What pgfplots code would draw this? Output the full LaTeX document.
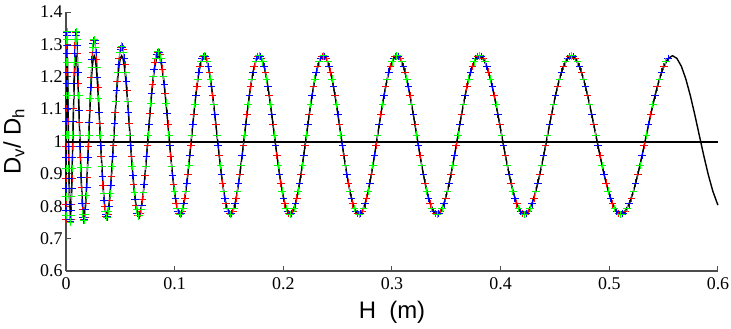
\documentclass[border=0pt]{standalone}
\usepackage{pgfplots}
\pgfplotsset{compat=1.18}
\usepackage{pgfplotstable}
\usepackage{fontspec}
\setmainfont{Liberation Serif}
\newfontfamily\lsans{Liberation Sans}

% model curve D_v/D_h (black)
\pgfplotstableread{
x y
0.000001 0.7834
0.000015 0.8078
0.000043 0.8468
0.000087 0.8975
0.000144 0.9566
0.000217 1.02
0.000304 1.0834
0.000406 1.1425
0.000523 1.1932
0.000654 1.2322
0.000800 1.2566
0.000961 1.265
0.001137 1.2566
0.001327 1.2322
0.001532 1.1932
0.001751 1.1425
0.001986 1.0834
0.002235 1.02
0.002499 0.9566
0.002777 0.8975
0.003071 0.8468
0.003379 0.8078
0.003701 0.7834
0.004039 0.775
0.004391 0.7834
0.004758 0.8078
0.005139 0.8468
0.005535 0.8975
0.005946 0.9566
0.006372 1.02
0.006812 1.0834
0.007268 1.1425
0.007737 1.1932
0.008222 1.2322
0.008721 1.2566
0.009235 1.265
0.009764 1.2566
0.010307 1.2322
0.010866 1.1932
0.011438 1.1425
0.012026 1.0834
0.012628 1.02
0.013245 0.9566
0.013877 0.8975
0.014523 0.8468
0.015184 0.8078
0.015860 0.7834
0.016551 0.775
0.017256 0.7834
0.017976 0.8078
0.018711 0.8468
0.019460 0.8975
0.020224 0.9566
0.021003 1.02
0.021797 1.0834
0.022605 1.1425
0.023428 1.1932
0.024266 1.2322
0.025118 1.2566
0.025985 1.265
0.026867 1.2566
0.027764 1.2322
0.028675 1.1932
0.029601 1.1425
0.030542 1.0834
0.031497 1.02
0.032467 0.9566
0.033452 0.8975
0.034452 0.8468
0.035466 0.8078
0.036495 0.7834
0.037539 0.775
0.038598 0.7834
0.039671 0.8078
0.040759 0.8468
0.041861 0.8975
0.042979 0.9566
0.044111 1.02
0.045257 1.0834
0.046419 1.1425
0.047595 1.1932
0.048786 1.2322
0.049991 1.2566
0.051211 1.265
0.052447 1.2566
0.053697 1.2322
0.054961 1.1932
0.056240 1.1425
0.057534 1.0834
0.058843 1.02
0.060166 0.9566
0.061504 0.8975
0.062857 0.8468
0.064224 0.8078
0.065606 0.7834
0.067003 0.775
0.068415 0.7834
0.069841 0.8078
0.071283 0.8468
0.072738 0.8975
0.074209 0.9566
0.075694 1.02
0.077194 1.0834
0.078709 1.1425
0.080238 1.1932
0.081782 1.2322
0.083341 1.2566
0.084914 1.265
0.086502 1.2566
0.088105 1.2322
0.089723 1.1932
0.091355 1.1425
0.093002 1.0834
0.094664 1.02
0.096340 0.9566
0.098031 0.8975
0.099737 0.8468
0.101457 0.8078
0.103193 0.7834
0.104943 0.775
0.106709 0.7834
0.108488 0.8078
0.110283 0.8468
0.112091 0.8975
0.113915 0.9566
0.115753 1.02
0.117606 1.0834
0.119474 1.1425
0.121356 1.1932
0.123254 1.2322
0.125165 1.2566
0.127092 1.265
0.129034 1.2566
0.130990 1.2322
0.132961 1.1932
0.134946 1.1425
0.136946 1.0834
0.138961 1.02
0.140991 0.9566
0.143035 0.8975
0.145094 0.8468
0.147168 0.8078
0.149256 0.7834
0.151359 0.775
0.153478 0.7834
0.155611 0.8078
0.157758 0.8468
0.159920 0.8975
0.162097 0.9566
0.164289 1.02
0.166495 1.0834
0.168716 1.1425
0.170951 1.1932
0.173202 1.2322
0.175467 1.2566
0.177746 1.265
0.180041 1.2566
0.182351 1.2322
0.184675 1.1932
0.187013 1.1425
0.189367 1.0834
0.191735 1.02
0.194118 0.9566
0.196515 0.8975
0.198927 0.8468
0.201354 0.8078
0.203796 0.7834
0.206252 0.775
0.208723 0.7834
0.211209 0.8078
0.213710 0.8468
0.216225 0.8975
0.218755 0.9566
0.221300 1.02
0.223859 1.0834
0.226433 1.1425
0.229022 1.1932
0.231626 1.2322
0.234244 1.2566
0.236877 1.265
0.239525 1.2566
0.242187 1.2322
0.244864 1.1932
0.247556 1.1425
0.250262 1.0834
0.252984 1.02
0.255719 0.9566
0.258470 0.8975
0.261235 0.8468
0.264015 0.8078
0.266810 0.7834
0.269621 0.775
0.272445 0.7834
0.275284 0.8078
0.278138 0.8468
0.281006 0.8975
0.283889 0.9566
0.286787 1.02
0.289699 1.0834
0.292627 1.1425
0.295569 1.1932
0.298525 1.2322
0.301496 1.2566
0.304483 1.265
0.307484 1.2566
0.310500 1.2322
0.313530 1.1932
0.316575 1.1425
0.319635 1.0834
0.322709 1.02
0.325798 0.9566
0.328902 0.8975
0.332021 0.8468
0.335154 0.8078
0.338302 0.7834
0.341464 0.775
0.344642 0.7834
0.347835 0.8078
0.351042 0.8468
0.354263 0.8975
0.357499 0.9566
0.360750 1.02
0.364016 1.0834
0.367297 1.1425
0.370592 1.1932
0.373901 1.2322
0.377226 1.2566
0.380565 1.265
0.383920 1.2566
0.387289 1.2322
0.390672 1.1932
0.394070 1.1425
0.397483 1.0834
0.400911 1.02
0.404353 0.9566
0.407810 0.8975
0.411282 0.8468
0.414768 0.8078
0.418269 0.7834
0.421785 0.775
0.425316 0.7834
0.428861 0.8078
0.432422 0.8468
0.435996 0.8975
0.439586 0.9566
0.443190 1.02
0.446809 1.0834
0.450443 1.1425
0.454091 1.1932
0.457754 1.2322
0.461432 1.2566
0.465124 1.265
0.468831 1.2566
0.472553 1.2322
0.476290 1.1932
0.480041 1.1425
0.483808 1.0834
0.487588 1.02
0.491384 0.9566
0.495194 0.8975
0.499019 0.8468
0.502859 0.8078
0.506713 0.7834
0.510582 0.775
0.514466 0.7834
0.518364 0.8078
0.522277 0.8468
0.526205 0.8975
0.530148 0.9566
0.534105 1.02
0.538077 1.0834
0.542064 1.1425
0.546065 1.1932
0.550081 1.2322
0.554112 1.2566
0.558158 1.265
0.562218 1.2566
0.566293 1.2322
0.570383 1.1932
0.574487 1.1425
0.578607 1.0834
0.582741 1.02
0.586889 0.9566
0.591052 0.8975
0.595230 0.8468
0.599423 0.8078
0.600000 0.8036
}\curvetab

% measured series (green)
\pgfplotstableread{
x y
0.000008 0.771
0.000043 0.8295
0.000116 0.9168
0.000217 1.02
0.000355 1.1419
0.000523 1.2452
0.000727 1.3143
0.000961 1.3385
0.001232 1.3143
0.001532 1.2452
0.001869 1.1419
0.002235 1.02
0.002638 0.9168
0.003071 0.8295
0.003540 0.771
0.004039 0.7505
0.004575 0.771
0.005139 0.8295
0.005741 0.9168
0.006372 1.02
0.007040 1.1419
0.007737 1.2452
0.008472 1.3143
0.009235 1.3385
0.010036 1.3143
0.010866 1.2452
0.011732 1.1419
0.012628 1.02
0.013561 0.9187
0.014523 0.8329
0.015522 0.7755
0.016551 0.7554
0.017616 0.7755
0.018711 0.8329
0.019842 0.9187
0.021003 1.02
0.022201 1.1326
0.023428 1.2278
0.024692 1.2917
0.025985 1.314
0.027316 1.2917
0.028675 1.2278
0.030072 1.1326
0.031497 1.02
0.032960 0.9224
0.034452 0.8399
0.035981 0.7845
0.037539 0.7652
0.039135 0.7845
0.040759 0.8399
0.042420 0.9224
0.044111 1.02
0.045838 1.1251
0.047595 1.214
0.049389 1.2736
0.051211 1.2944
0.053072 1.2736
0.054961 1.214
0.056887 1.1251
0.058843 1.02
0.060835 0.9243
0.062857 0.8433
0.064915 0.7891
0.067003 0.7701
0.069128 0.7891
0.071283 0.8433
0.073474 0.9243
0.075694 1.02
0.077952 1.1185
0.080238 1.2019
0.082562 1.2577
0.084914 1.2773
0.087304 1.2577
0.089723 1.2019
0.092179 1.1185
0.094664 1.02
0.097186 0.9243
0.099737 0.8468
0.102325 0.7936
0.104943 0.775
0.107599 0.7936
0.110283 0.8468
0.113003 0.9262
0.115753 1.02
0.118540 1.1138
0.121356 1.1932
0.124210 1.2464
0.127092 1.265
0.130012 1.2464
0.132961 1.1932
0.135946 1.1138
0.138961 1.02
0.142013 0.9262
0.145094 0.8468
0.148212 0.7936
0.151359 0.775
0.154545 0.7936
0.157758 0.8468
0.161009 0.9262
0.164289 1.02
0.167606 1.1138
0.170951 1.1932
0.174335 1.2464
0.177746 1.265
0.181196 1.2464
0.184675 1.1932
0.188190 1.1138
0.191735 1.02
0.195317 0.9262
0.198927 0.8468
0.202575 0.7936
0.206252 0.775
0.209966 0.7936
0.213710 0.8468
0.217490 0.9262
0.221300 1.02
0.225146 1.1138
0.229022 1.1932
0.232935 1.2464
0.236877 1.265
0.240856 1.2464
0.244864 1.1932
0.248909 1.1138
0.252984 1.02
0.257095 0.9262
0.261235 0.8468
0.265413 0.7936
0.269621 0.775
0.273865 0.7936
0.278138 0.8468
0.282448 0.9262
0.286787 1.02
0.291163 1.1138
0.295569 1.1932
0.300011 1.2464
0.304483 1.265
0.308992 1.2464
0.313530 1.1932
0.318105 1.1138
0.322709 1.02
0.327350 0.9262
0.332021 0.8468
0.336728 0.7936
0.341464 0.775
0.346239 0.7936
0.351042 0.8468
0.355881 0.9262
0.360750 1.02
0.365657 1.1138
0.370592 1.1932
0.375564 1.2464
0.380565 1.265
0.385605 1.2464
0.390672 1.1932
0.395777 1.1138
0.400911 1.02
0.406082 0.9262
0.411282 0.8468
0.416519 0.7936
0.421785 0.775
0.427089 0.7936
0.432422 0.8468
0.437791 0.9262
0.443190 1.02
0.448626 1.1138
0.454091 1.1932
0.459593 1.2464
0.465124 1.265
0.470692 1.2464
0.476290 1.1932
0.481925 1.1138
0.487588 1.02
0.493289 0.9262
0.499019 0.8468
0.504786 0.7936
0.510582 0.775
0.516415 0.7936
0.522277 0.8468
0.528177 0.9262
0.534105 1.02
0.540071 1.1138
0.546065 1.1932
0.552097 1.2464
}\greentab

% measured series (red)
\pgfplotstableread{
x y
0.000001 0.7597
0.000029 0.8062
0.000087 0.8853
0.000181 0.9848
0.000304 1.1024
0.000465 1.2138
0.000654 1.2959
0.000881 1.3358
0.001137 1.3276
0.001430 1.2727
0.001751 1.1793
0.002111 1.0616
0.002499 0.9503
0.002924 0.856
0.003379 0.7866
0.003870 0.7528
0.004391 0.7597
0.004949 0.8062
0.005535 0.8853
0.006159 0.9848
0.006812 1.1024
0.007503 1.2138
0.008222 1.2959
0.008978 1.3358
0.009764 1.3276
0.010587 1.2727
0.011438 1.1793
0.012327 1.0584
0.013245 0.9515
0.014200 0.859
0.015184 0.7908
0.016206 0.7577
0.017256 0.7645
0.018344 0.81
0.019460 0.8877
0.020614 0.9854
0.021797 1.0961
0.023017 1.1989
0.024266 1.2746
0.025552 1.3115
0.026867 1.3039
0.028220 1.2533
0.029601 1.167
0.031020 1.0558
0.032467 0.9541
0.033952 0.8649
0.035466 0.7993
0.037017 0.7674
0.038598 0.7739
0.040215 0.8178
0.041861 0.8926
0.043545 0.9867
0.045257 1.091
0.047007 1.187
0.048786 1.2577
0.050601 1.292
0.052447 1.285
0.054329 1.2377
0.056240 1.1572
0.058189 1.0558
0.060166 0.9553
0.062181 0.8679
0.064224 0.8036
0.066305 0.7722
0.068415 0.7787
0.070562 0.8217
0.072738 0.8951
0.074952 0.9874
0.077194 1.0866
0.079474 1.1766
0.081782 1.2428
0.084128 1.275
0.086502 1.2684
0.088914 1.2241
0.091355 1.1486
0.093833 1.0536
0.096340 0.9553
0.098884 0.8679
0.101457 0.8078
0.104068 0.7771
0.106709 0.7834
0.109386 0.8256
0.112091 0.8975
0.114834 0.988
0.117606 1.0834
0.120415 1.1691
0.123254 1.2322
0.126129 1.2629
0.129034 1.2566
0.131976 1.2144
0.134946 1.1425
0.137954 1.052
0.140991 0.9566
0.144065 0.8709
0.147168 0.8078
0.150308 0.7771
0.153478 0.7834
0.156685 0.8256
0.159920 0.8975
0.163193 0.988
0.166495 1.0834
0.169834 1.1691
0.173202 1.2322
0.176607 1.2629
0.180041 1.2566
0.183513 1.2144
0.187013 1.1425
0.190551 1.052
0.194118 0.9566
0.197721 0.8709
0.201354 0.8078
0.205024 0.7771
0.208723 0.7834
0.212460 0.8256
0.216225 0.8975
0.220028 0.988
0.223859 1.0834
0.227728 1.1691
0.231626 1.2322
0.235561 1.2629
0.239525 1.2566
0.243526 1.2144
0.247556 1.1425
0.251623 1.052
0.255719 0.9566
0.259853 0.8709
0.264015 0.8078
0.268216 0.7771
0.272445 0.7834
0.276711 0.8256
0.281006 0.8975
0.285338 0.988
0.289699 1.0834
0.294098 1.1691
0.298525 1.2322
0.302990 1.2629
0.307484 1.2566
0.312015 1.2144
0.316575 1.1425
0.321172 1.052
0.325798 0.9566
0.330462 0.8709
0.335154 0.8078
0.339883 0.7771
0.344642 0.7834
0.349439 0.8256
0.354263 0.8975
0.359125 0.988
0.364016 1.0834
0.368945 1.1691
0.373901 1.2322
0.378896 1.2629
0.383920 1.2566
0.388981 1.2144
0.394070 1.1425
0.399197 1.052
0.404353 0.9566
0.409546 0.8709
0.414768 0.8078
0.420027 0.7771
0.425316 0.7834
0.430642 0.8256
0.435996 0.8975
0.441388 0.988
0.446809 1.0834
0.452267 1.1691
0.457754 1.2322
0.463278 1.2629
0.468831 1.2566
0.474422 1.2144
0.480041 1.1425
0.485698 1.052
0.491384 0.9566
0.497107 0.8709
0.502859 0.8078
0.508648 0.7771
0.514466 0.7834
0.520321 0.8256
0.526205 0.8975
0.532127 0.988
0.538077 1.0834
0.544065 1.1691
0.550081 1.2322
}\redtab

% measured series (blue)
\pgfplotstableread{
x y
0.000015 0.7866
0.000065 0.856
0.000144 0.9503
0.000261 1.0616
0.000406 1.1793
0.000589 1.2727
0.000800 1.3276
0.001049 1.3358
0.001327 1.2959
0.001642 1.2138
0.001986 1.1024
0.002367 0.9848
0.002777 0.8853
0.003225 0.8062
0.003701 0.7597
0.004215 0.7528
0.004758 0.7866
0.005337 0.856
0.005946 0.9503
0.006592 1.0616
0.007268 1.1793
0.007980 1.2727
0.008721 1.3276
0.009500 1.3358
0.010307 1.2959
0.011152 1.2138
0.012026 1.0961
0.012937 0.9854
0.013877 0.8877
0.014854 0.81
0.015860 0.7645
0.016904 0.7577
0.017976 0.7908
0.019086 0.859
0.020224 0.9515
0.021400 1.0584
0.022605 1.167
0.023847 1.2533
0.025118 1.3039
0.026426 1.3115
0.027764 1.2746
0.029138 1.1989
0.030542 1.091
0.031982 0.9867
0.033452 0.8926
0.034959 0.8178
0.036495 0.7739
0.038069 0.7674
0.039671 0.7993
0.041310 0.8649
0.042979 0.9541
0.044684 1.0558
0.046419 1.1572
0.048191 1.2377
0.049991 1.285
0.051829 1.292
0.053697 1.2577
0.055601 1.187
0.057534 1.091
0.059505 0.9867
0.061504 0.8951
0.063541 0.8217
0.065606 0.7787
0.067709 0.7722
0.069841 0.8036
0.072011 0.8679
0.074209 0.9553
0.076444 1.0536
0.078709 1.1486
0.081010 1.2241
0.083341 1.2684
0.085708 1.275
0.088105 1.2428
0.090539 1.1766
0.093002 1.0866
0.095502 0.9874
0.098031 0.8951
0.100597 0.8256
0.103193 0.7834
0.105826 0.7771
0.108488 0.8078
0.111187 0.8709
0.113915 0.9566
0.116680 1.052
0.119474 1.1425
0.122305 1.2144
0.125165 1.2566
0.128063 1.2629
0.130990 1.2322
0.133954 1.1691
0.136946 1.0834
0.139976 0.988
0.143035 0.8975
0.146131 0.8256
0.149256 0.7834
0.152419 0.7771
0.155611 0.8078
0.158839 0.8709
0.162097 0.9566
0.165392 1.052
0.168716 1.1425
0.172077 1.2144
0.175467 1.2566
0.178894 1.2629
0.182351 1.2322
0.185844 1.1691
0.189367 1.0834
0.192927 0.988
0.196515 0.8975
0.200141 0.8256
0.203796 0.7834
0.207488 0.7771
0.211209 0.8078
0.214968 0.8709
0.218755 0.9566
0.222580 1.052
0.226433 1.1425
0.230324 1.2144
0.234244 1.2566
0.238201 1.2629
0.242187 1.2322
0.246210 1.1691
0.250262 1.0834
0.254352 0.988
0.258470 0.8975
0.262625 0.8256
0.266810 0.7834
0.271033 0.7771
0.275284 0.8078
0.279572 0.8709
0.283889 0.9566
0.288243 1.052
0.292627 1.1425
0.297047 1.2144
0.301496 1.2566
0.305984 1.2629
0.310500 1.2322
0.315053 1.1691
0.319635 1.0834
0.324254 0.988
0.328902 0.8975
0.333588 0.8256
0.338302 0.7834
0.343053 0.7771
0.347835 0.8078
0.352653 0.8709
0.357499 0.9566
0.362383 1.052
0.367297 1.1425
0.372247 1.2144
0.377226 1.2566
0.382243 1.2629
0.387289 1.2322
0.392371 1.1691
0.397483 1.0834
0.402632 0.988
0.407810 0.8975
0.413025 0.8256
0.418269 0.7834
0.423551 0.7771
0.428861 0.8078
0.434209 0.8709
0.439586 0.9566
0.445000 1.052
0.450443 1.1425
0.455923 1.2144
0.461432 1.2566
0.466978 1.2629
0.472553 1.2322
0.478166 1.1691
0.483808 1.0834
0.489486 0.988
0.495194 0.8975
0.500939 0.8256
0.506713 0.7834
0.512524 0.7771
0.518364 0.8078
0.524241 0.8709
0.530148 0.9566
0.536091 1.052
0.542064 1.1425
0.548073 1.2144
0.554112 1.2566
}\bluetab

\begin{document}
\begin{tikzpicture}
\useasboundingbox (-66bp,-58bp) rectangle (665bp,271bp);
\begin{axis}[
  at={(0,0)}, anchor=south west,
  scale only axis,
  width=652bp, height=259bp,
  xmin=0, xmax=0.6, ymin=0.6, ymax=1.4,
  axis x line*=bottom, axis y line*=left,
  axis line style={black!70, line width=1.2bp},
  tick align=inside, major tick length=5bp,
  tick style={black!70, line width=1bp},
  xtick={0,0.1,0.2,0.3,0.4,0.5,0.6},
  ytick={0.6,0.7,0.8,0.9,1,1.1,1.2,1.3,1.4},
  /pgf/number format/assume math mode=true,
  ticklabel style={font=\rmfamily\fontsize{18}{18}\selectfont},
  xticklabel style={yshift=-3bp},
  xlabel={H\ \ (m)},
  ylabel={D\textsubscript{v}/ D\textsubscript{h}},
  xlabel style={font=\fontsize{24}{24}\selectfont\lsans,
    at={(axis description cs:0.5,-0.158)}, anchor=center},
  ylabel style={font=\fontsize{24}{24}\selectfont\lsans,
    at={(axis description cs:-0.080,0.5)}, anchor=center, rotate=0},
  clip=false,
]
\addplot[red, line width=0.8bp, mark=+, mark size=3.8bp,
  mark options={solid, line width=0.9bp}] table {\redtab};
\addplot[blue, line width=0.8bp, mark=+, mark size=3.8bp,
  mark options={solid, line width=0.9bp}] table {\bluetab};
\addplot[green, line width=0.8bp, mark=+, mark size=3.8bp,
  mark options={solid, line width=0.9bp}] table {\greentab};
\addplot[black, line width=1.4bp, no markers] table {\curvetab};
\addplot[black, line width=2bp, no markers] coordinates {(0,1) (0.6,1)};
\end{axis}
\end{tikzpicture}
\end{document}
